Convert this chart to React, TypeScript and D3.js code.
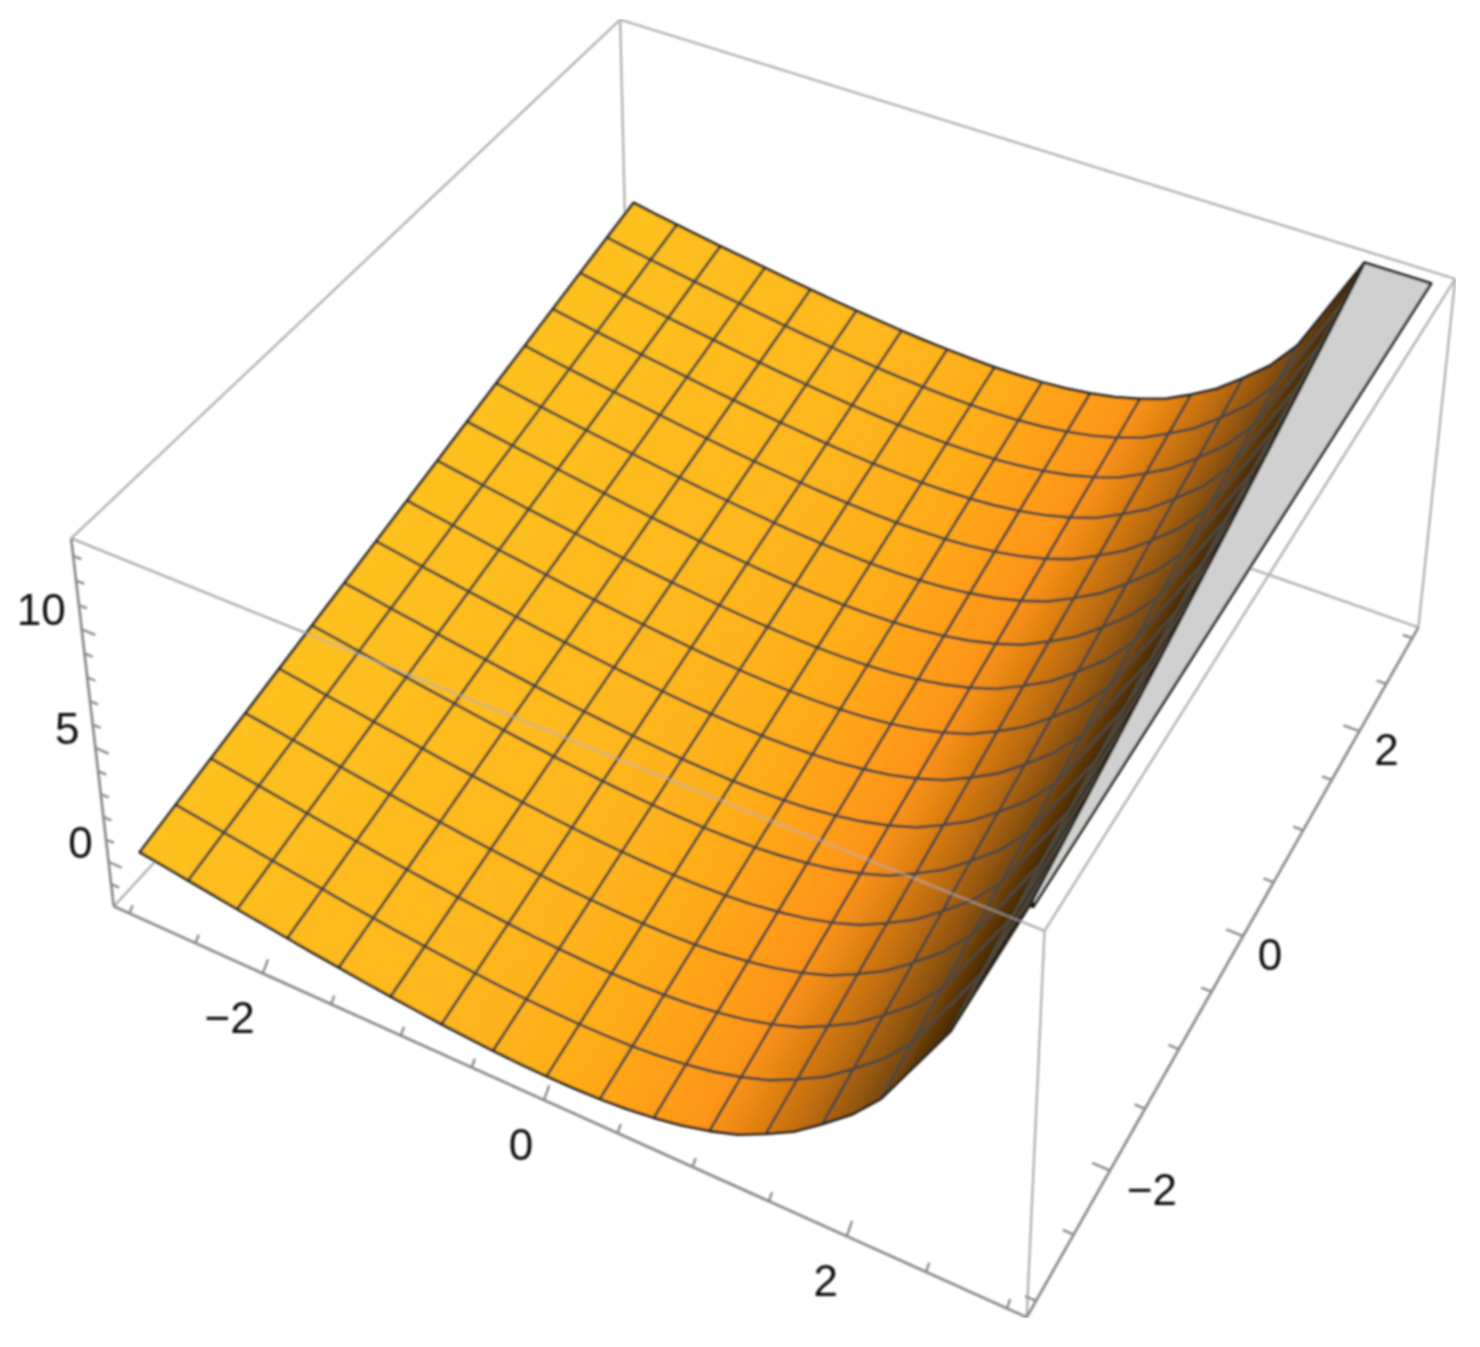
import React from "react";
import * as d3 from "d3";

// ---- data ----
const profileX = [-2.97,-2.79,-2.61,-2.43,-2.25,-2.07,-1.885,-1.7,-1.515,-1.33,-1.145,-0.965,-0.785,-0.605,-0.425,-0.24,-0.055,0.13,0.31,0.49,0.675,0.86,1.045,1.23,1.415,1.595,1.775,1.96,2.14,2.55,3];
const zFront = [0.25,0.1,-0.07,-0.23,-0.395,-0.55,-0.71,-0.87,-1.015,-1.156,-1.287,-1.4,-1.51,-1.6,-1.67,-1.72,-1.75,-1.74,-1.7,-1.61,-1.46,-1.25,-0.95,-0.56,0.02,0.65,1.5,2.45,3.65,7.6,14];
const zBack = [5.87,5.68,5.51,5.35,5.18,5.03,4.87,4.71,4.56,4.42,4.29,4.18,4.07,3.98,3.91,3.86,3.83,3.84,3.88,3.97,4.12,4.33,4.63,5.02,5.6,6.23,7.08,8.03,9.3,13.75,19.6];
const meshX = [-2.61,-2.25,-1.885,-1.515,-1.145,-0.785,-0.425,-0.055,0.31,0.675,1.045,1.415,1.775,2.14,2.55,2.92];
const meshY = [-2.625,-2.25,-1.875,-1.5,-1.125,-0.75,-0.375,0,0.375,0.75,1.125,1.5,1.875,2.25,2.625];
const shadeX = [-3,-1,0,0.7,1.05,1.4,1.8,2.1,2.5,2.95];
const shadeColor = ["#fdc01c","#feb81b","#feae19","#ff9c16","#fb9214","#d87b11","#a8600e","#7f4a0a","#4a2a05","#1c1102"];
const xTicks = d3.range(-3, 3.01, 0.5);
const yTicks = d3.range(-3, 3.01, 0.5);
const zTicks = d3.range(-1, 13.01, 1);
const xLabels = [-2, 0, 2];
const yLabels = [-2, 0, 2];
const zLabels = [0, 5, 10];

const xDomain = [-3.12, 3.12];
const yDomain = [-3.12, 3.12];
const zDomain = [-2.0, 13.7];
const yMin = -3, yMax = 3, xMin = -2.97, xMax = 3;

// box corners in (u,v,w) and where the camera puts them
const cornerCalib: [number, number, number, number, number][] = [
  [0,0,0,118,911],[1,0,0,1025,1318],[1,1,0,1416,633],[0,1,0,628,340],
  [0,0,1,67,538],[1,0,1,1046,925],[1,1,1,1458,277],[0,1,1,620,26],
];

function solve(A: number[][], b: number[]) {
  const n = b.length;
  const M = A.map((r, i) => [...r, b[i]]);
  for (let c = 0; c < n; c++) {
    let p = c;
    for (let r = c + 1; r < n; r++) if (Math.abs(M[r][c]) > Math.abs(M[p][c])) p = r;
    [M[c], M[p]] = [M[p], M[c]];
    for (let r = 0; r < n; r++) {
      if (r === c) continue;
      const f = M[r][c] / M[c][c];
      for (let k = c; k <= n; k++) M[r][k] -= f * M[c][k];
    }
  }
  return M.map((r, i) => r[n] / r[i]);
}
function fitCamera() {
  const rows: number[][] = [], rhs: number[] = [];
  for (const [u, v, w, sx, sy] of cornerCalib) {
    rows.push([u, v, w, 1, 0, 0, 0, 0, -sx * u, -sx * v, -sx * w]); rhs.push(sx);
    rows.push([0, 0, 0, 0, u, v, w, 1, -sy * u, -sy * v, -sy * w]); rhs.push(sy);
  }
  const N = 11;
  const AtA = d3.range(N).map(i => d3.range(N).map(j => d3.sum(rows, r => r[i] * r[j])));
  const Atb = d3.range(N).map(i => d3.sum(rows, (r, k) => r[i] * rhs[k]));
  return solve(AtA, Atb);
}
const P = fitCamera();
type XY = [number, number];
const proj = (u: number, v: number, w: number): XY => {
  const d = P[8] * u + P[9] * v + P[10] * w + 1;
  return [(P[0] * u + P[1] * v + P[2] * w + P[3]) / d, (P[4] * u + P[5] * v + P[6] * w + P[7]) / d];
};
const uS = d3.scaleLinear(xDomain, [0, 1]);
const vS = d3.scaleLinear(yDomain, [0, 1]);
const wS = d3.scaleLinear(zDomain, [0, 1]);
const pt = (x: number, y: number, z: number) => proj(uS(x), vS(y), wS(z));
const frontAt = d3.scaleLinear(profileX, zFront);
const backAt = d3.scaleLinear(profileX, zBack);
const tY = d3.scaleLinear([yMin, yMax], [0, 1]);
const zMax = zDomain[1];
const zXY = (x: number, y: number) => frontAt(x) + (backAt(x) - frontAt(x)) * tY(y);
const surf = (x: number, y: number) => pt(x, y, Math.min(zXY(x, y), zMax));
const shade = d3.scaleLinear<string>(shadeX, shadeColor).clamp(true);
const line = d3.line();

// x at which the surface reaches the top of the box, for a given y
const clipXAt = (y: number) => {
  let lo = 1, hi = xMax;
  for (let i = 0; i < 30; i++) {
    const m = (lo + hi) / 2;
    if (zXY(m, y) > zMax) hi = m; else lo = m;
  }
  return lo;
};
// y at which a line of constant x reaches the top of the box
const clipYAt = (x: number) => {
  const f = frontAt(x), b = backAt(x);
  if (b <= zMax) return yMax;
  if (f >= zMax) return yMin;
  return tY.invert((zMax - f) / (b - f));
};

const BOX = "#b2b2b2";
const AXIS = "#8c8c8c";
const MESH = "#4e483e";
const EDGE = "#2c2823";
const FONT = "'Liberation Sans', Arial, sans-serif";
const seg = (a: XY, b: XY) => line([a, b]) as string;

function bands() {
  const out: React.ReactNode[] = [];
  const edges = d3.range(xMin, xMax + 1e-6, (xMax - xMin) / 240);
  for (let i = 0; i < edges.length - 1; i++) {
    const a = edges[i], b = edges[i + 1];
    const ya = clipYAt(a), yb = clipYAt(b);
    const c = shade((a + b) / 2);
    const pts: XY[] = [surf(a, yMin), surf(b, yMin), surf(b, yb), surf(a, ya)];
    out.push(<path key={i} d={line(pts) + "Z"} fill={c} stroke={c} strokeWidth={0.8} />);
  }
  return out;
}

export default function App() {
  const c000 = proj(0,0,0), c100 = proj(1,0,0), c110 = proj(1,1,0), c010 = proj(0,1,0);
  const c001 = proj(0,0,1), c101 = proj(1,0,1), c111 = proj(1,1,1), c011 = proj(0,1,1);
  const ys = d3.range(yMin, yMax + 1e-6, 0.25);
  const clipCurve: XY[] = ys.map(y => pt(clipXAt(y), y, zMax));
  const xsBefore = (y: number) => {
    const cx = clipXAt(y);
    return [...profileX.filter(x => x < cx), cx];
  };
  const frontEdge = xsBefore(yMin).map(x => surf(x, yMin));
  const backEdge = xsBefore(yMax).map(x => surf(x, yMax));
  const outline: XY[] = [...frontEdge, ...clipCurve, ...backEdge.slice().reverse()];
  const grayStrip: XY[] = [...clipCurve, pt(xMax, yMax, zMax), pt(xMax, yMin, zMax)];
  const labelDX: Record<string, number> = { x: -33, xz: -23, xp: -21, y: 27, yn: 42 };
  return (
    <svg width={1480} height={1347} style={{ position: "absolute", left: 0, top: 0, background: "#fff" }}>
      <defs>
        <filter id="soft" x="0" y="0" width="100%" height="100%"><feGaussianBlur stdDeviation={0.8} /></filter>
      </defs>
      <rect width={1480} height={1347} fill="#fff" />
      <g filter="url(#soft)">
        <g fill="none" stroke={BOX} strokeWidth={2.4}>
          <path d={seg(c001, c011)} />
          <path d={seg(c011, c111)} />
          <path d={seg(c011, c010)} />
          <path d={seg(c000, c010)} />
          <path d={seg(c010, c110)} />
          <path d={seg(c001, c101)} />
        </g>
        <path d={line(grayStrip) + "Z"} fill="#d0d0d0" stroke={EDGE} strokeWidth={2.8} strokeLinejoin="round" />
        {bands()}
        <g fill="none" stroke={MESH} strokeWidth={2.9}>
          {meshX.map(x => <path key={x} d={seg(surf(x, yMin), surf(x, clipYAt(x)))} />)}
          {meshY.map(y => <path key={y} d={line(xsBefore(y).map(x => surf(x, y))) as string} />)}
        </g>
        <path d={line(outline) + "Z"} fill="none" stroke={EDGE} strokeWidth={2.8} strokeLinejoin="round" />
        <g fill="none" stroke={BOX} strokeWidth={2.4}>
          <path d={seg(c001, c101)} strokeOpacity={0.6} />
          <path d={seg(c101, c111)} />
          <path d={seg(c111, c110)} />
          <path d={seg(c101, c100)} />
        </g>
        <g fill="none" stroke={AXIS} strokeWidth={2.8}>
          <path d={seg(c000, c100)} />
          <path d={seg(c100, c110)} />
          <path d={seg(c000, c001)} />
        </g>
        <g fill="none" stroke={AXIS} strokeWidth={2.4}>
          {xTicks.map(x => {
            const maj = xLabels.includes(x) ? 1 : 0.6;
            return <path key={x} d={seg(proj(uS(x), 0, 0), proj(uS(x), 0.01 * maj, 0.02 * maj))} />;
          })}
          {yTicks.map(y => {
            const maj = yLabels.includes(y) ? 1 : 0.6;
            return <path key={y} d={seg(proj(1, vS(y), 0), proj(1 - 0.018 * maj, vS(y), 0))} />;
          })}
          {zTicks.map(z => {
            const maj = zLabels.includes(z) ? 1 : 0.6;
            return <path key={z} d={seg(proj(0, 0, wS(z)), proj(0.016 * maj, 0, wS(z)))} />;
          })}
        </g>
        <g fontFamily={FONT} fontSize={44} fill="#111" textAnchor="middle">
          {xLabels.map(x => {
            const [sx, sy] = proj(uS(x), 0, 0);
            const dx = x < 0 ? labelDX.x : x === 0 ? labelDX.xz : labelDX.xp;
            return <text key={x} x={sx + dx} y={sy + 60}>{x < 0 ? `\u2212${-x}` : x}</text>;
          })}
          {yLabels.map(y => {
            const [sx, sy] = proj(1, vS(y), 0);
            return <text key={y} x={sx + (y < 0 ? labelDX.yn : labelDX.y)} y={sy + 34}>{y < 0 ? `\u2212${-y}` : y}</text>;
          })}
          {zLabels.map(z => {
            const [sx, sy] = proj(0, 0, wS(z));
            return <text key={z} x={sx - 16} y={sy - 4} textAnchor="end">{z}</text>;
          })}
        </g>
      </g>
    </svg>
  );
}
